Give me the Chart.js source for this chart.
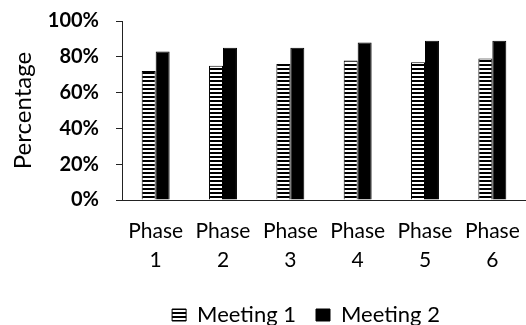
<!DOCTYPE html>
<html>
<head>
<meta charset="utf-8">
<script src="https://cdn.jsdelivr.net/npm/chart.js@4.4.1/dist/chart.umd.min.js"></script>
<style>
  html, body { margin: 0; padding: 0; background: #fff; }
  #wrap { width: 526px; height: 325px; }
</style>
</head>
<body>
<div id="wrap"><canvas id="c" width="526" height="325"></canvas></div>
<script>
const categories = [['Phase', '1'], ['Phase', '2'], ['Phase', '3'], ['Phase', '4'], ['Phase', '5'], ['Phase', '6']];
const meeting1 = [72, 75, 76, 78, 77, 79];
const meeting2 = [83, 85, 85, 88, 89, 89];
const seriesNames = ['Meeting 1', 'Meeting 2'];
const yTicks = [0, 20, 40, 60, 80, 100];

// box geometry (px)
const PLOT_LEFT = 122;
const PLOT_BOTTOM = 200;
const LEGEND_LEFT_SHIFT = 86;
const LEGEND_TEXT_MID = 315;

// horizontal stripe fill for the first series
function stripePattern() {
  const p = document.createElement('canvas');
  p.width = 4; p.height = 4;
  const g = p.getContext('2d');
  g.fillStyle = '#ffffff';
  g.fillRect(0, 0, 4, 4);
  g.fillStyle = '#000000';
  g.fillRect(0, 0, 4, 2);
  return document.getElementById('c').getContext('2d').createPattern(p, 'repeat');
}

const LEGEND_FONT_SIZE = 22;
const LEGEND_PAD = 20;

// place the legend row under the plot
const legendPlacement = {
  id: 'legendPlacement',
  afterLayout(chart) {
    const lg = chart.legend;
    if (!lg) return;
    const h = lg.height;
    lg.left += LEGEND_LEFT_SHIFT;
    lg.top = LEGEND_TEXT_MID - LEGEND_PAD - LEGEND_FONT_SIZE / 2;
    lg.bottom = lg.top + h;
  }
};

const FONT = 'Lato, "Open Sans", sans-serif';

new Chart(document.getElementById('c'), {
  type: 'bar',
  data: {
    labels: categories,
    datasets: [
      {
        label: seriesNames[0],
        data: meeting1,
        backgroundColor: stripePattern(),
        borderColor: '#000',
        borderWidth: 1,
        categoryPercentage: 0.415,
        barPercentage: 1.0
      },
      {
        label: seriesNames[1],
        data: meeting2,
        backgroundColor: '#000',
        borderColor: '#000',
        borderWidth: 1,
        categoryPercentage: 0.415,
        barPercentage: 1.0
      }
    ]
  },
  options: {
    responsive: false,
    animation: false,
    devicePixelRatio: 1,
    layout: { padding: { top: 21, right: 0, bottom: 0, left: 0 } },
    plugins: {
      tooltip: { enabled: false },
      legend: {
        position: 'bottom',
        labels: {
          color: '#000',
          font: { family: FONT, size: LEGEND_FONT_SIZE },
          boxWidth: 14,
          boxHeight: 12,
          padding: LEGEND_PAD
        }
      }
    },
    scales: {
      x: {
        border: { display: true, color: '#222', width: 1 },
        grid: { display: false, drawTicks: false },
        ticks: {
          color: '#000',
          padding: 17,
          maxRotation: 0,
          autoSkip: false,
          font: { family: FONT, size: 21, lineHeight: 29 / 21 }
        },
        afterFit(s) {
          s.paddingLeft = 0;
          s.paddingRight = 0;
          const lh = s.chart.legend ? s.chart.legend.height : 0;
          s.height = s.chart.height - PLOT_BOTTOM - lh;
        }
      },
      y: {
        min: 0,
        max: 100,
        afterBuildTicks(axis) { axis.ticks = yTicks.map(v => ({ value: v })); },
        border: { display: true, color: '#222', width: 1 },
        grid: { drawOnChartArea: false, drawTicks: true, tickLength: 6, color: '#222' },
        ticks: {
          color: '#000',
          padding: 17,
          font: { family: FONT, size: 20, weight: 'bold' },
          callback: v => v + '%'
        },
        title: {
          display: true,
          text: 'Percentage',
          color: '#000',
          font: { family: FONT, size: 24 },
          padding: { top: 9, bottom: 0 }
        },
        afterFit(s) {
          s.width = PLOT_LEFT;
          s.paddingTop = 0;
          s.paddingBottom = 0;
        }
      }
    }
  },
  plugins: [legendPlacement]
});
</script>
</body>
</html>
